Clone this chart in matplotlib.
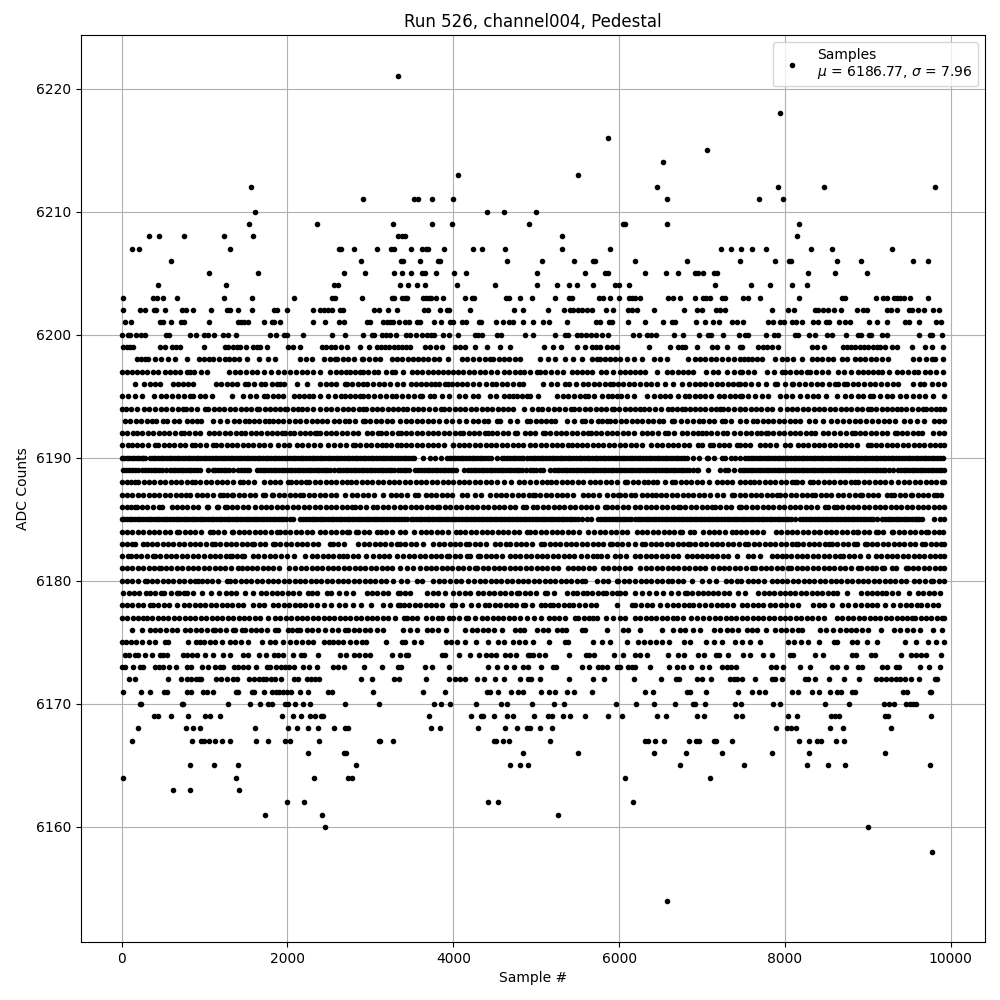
import matplotlib
matplotlib.use('Agg')
import matplotlib.pyplot as plt

# sample numbers, one list for each ADC level
s6221 = [3337]
s6218 = [7944]
s6216 = [5869]
s6215 = [7063]
s6214 = [6533]
s6213 = [4060, 5507]
s6212 = [1564, 6460, 7919, 8475, 9813]
s6211 = [2915, 3526, 3578, 3747, 4000, 6581, 7690, 7980]
s6210 = [1612, 4410, 4615, 5001]
s6209 = [1540, 2360, 3276, 3747, 3988, 4908, 6050, 6070, 6581, 8172]
s6208 = [334, 454, 756, 1238, 1588, 3337, 3377, 3421, 5315, 8148]
s6207 = [129, 213, 1311, 2625, 2649, 2806, 3083, 3252, 3284, 3493, 3626, 3674, 3698, 3891, 4241, 4350, 4627,
         5315, 5893, 7232, 7353, 7473, 7606, 7775, 8317, 8571, 9294]
s6206 = [599, 2890, 3373, 3397, 3602, 3811, 3843, 4651, 5073, 5459, 5688, 5712, 6195, 6822, 7461, 7883, 8052,
         8076, 8631, 8920, 9548, 9728]
s6205 = [1057, 1648, 2685, 2939, 3288, 3385, 3493, 3626, 3662, 3795, 4012, 4157, 5013, 5592, 5833, 5869, 6316,
         6569, 6714, 6918, 6955, 7015, 7147, 7184, 8281, 8607, 8993]
s6204 = [442, 1262, 2565, 2613, 3361, 3457, 3566, 3662, 4048, 4506, 5013, 5254, 5399, 5495, 5688, 5954, 6002,
         6122, 7160, 7594, 7823, 8088, 8269]
s6203 = [20, 382, 430, 503, 671, 1238, 1576, 2082, 2541, 2577, 2902, 3264, 3288, 3385, 3421, 3445, 3638, 3674,
         3710, 3735, 3795, 3879, 4145, 4229, 4253, 4639, 4675, 4808, 4953, 5230, 5399, 5435, 5761, 5809, 5893,
         6002, 6122, 6158, 6195, 6255, 6593, 6653, 6738, 6918, 7015, 7051, 7099, 7244, 7280, 7498, 7558, 7702,
         8172, 8691, 8727, 9098, 9186, 9234, 9318, 9355, 9391, 9439, 9511, 9728]
s6202 = [20, 225, 285, 394, 418, 527, 732, 780, 864, 1081, 1274, 1311, 1407, 1576, 1841, 1877, 1998, 2311, 2396,
         2444, 2492, 2541, 2637, 2673, 3047, 3107, 3216, 3325, 3650, 3698, 3843, 3928, 3952, 4205, 4736, 4844,
         5146, 5339, 5411, 5447, 5507, 5556, 5616, 5676, 5845, 5930, 6110, 6158, 6219, 6424, 6786, 6943, 7003,
         7172, 7220, 7280, 7847, 8040, 8112, 8365, 8401, 8461, 8522, 8595, 8679, 8872, 8945, 8993, 9234, 9282,
         9355, 9499, 9535, 9608, 9680, 9789, 9861]
s6201 = [44, 117, 466, 503, 599, 720, 756, 1057, 1407, 1443, 1479, 1528, 1721, 1817, 1841, 1913, 2311, 2456, 2625,
         2685, 2963, 2999, 3156, 3204, 3240, 3276, 3349, 3421, 3469, 3566, 3602, 3771, 3855, 3964, 4000, 4108,
         4157, 4313, 4337, 4519, 4603, 4675, 4723, 4844, 4965, 5085, 5158, 5375, 5724, 5773, 5881, 5917, 6110,
         6316, 6533, 6641, 6677, 6931, 7039, 7136, 7208, 7365, 7425, 7498, 7798, 7859, 7944, 7992, 8088, 8136,
         8209, 8341, 8401, 8498, 8534, 8655, 8727, 8788, 9017, 9114, 9234, 9451, 9499, 9620, 9825, 9885]
s6200 = [8, 80, 104, 177, 237, 285, 539, 575, 828, 900, 997, 1045, 1118, 1226, 1286, 1383, 1793, 1865, 1962, 1998,
         2191, 2541, 2697, 2915, 3023, 3047, 3144, 3192, 3240, 3312, 3433, 3481, 3554, 3626, 3686, 3735, 3771,
         3879, 3952, 4060, 4265, 4301, 4350, 4531, 4579, 4868, 4965, 5230, 5351, 5387, 5495, 5543, 5604, 5664,
         5724, 5797, 5869, 6171, 6243, 6340, 6388, 6448, 6665, 6774, 6967, 7075, 7111, 7256, 7449, 7522, 7558,
         7775, 7871, 7919, 8124, 8160, 8293, 8365, 8510, 8571, 8739, 8884, 8920, 9017, 9041, 9174, 9234, 9620,
         9752, 9776, 9897]
s6199 = [21, 60, 100, 141, 463, 523, 604, 650, 704, 998, 1247, 1287, 1347, 1390, 1428, 1500, 1589, 1630, 1669, 1757,
         2011, 2071, 2151, 2413, 2465, 2520, 2574, 2642, 2715, 2875, 2988, 3076, 3125, 3180, 3230, 3280, 3330, 3380,
         3430, 3478, 3659, 3720, 3788, 3860, 4021, 4081, 4142, 4262, 4403, 4564, 4684, 5094, 5206, 5295, 5488, 5588,
         5669, 5720, 5769, 5858, 5915, 5978, 6364, 6613, 6714, 6755, 6794, 6943, 7116, 7176, 7297, 7458, 7477, 7678,
         7730, 7779, 7839, 7919, 8321, 8382, 8474, 8703, 8750, 8800, 8850, 8900, 8950, 9000, 9065, 9105, 9150, 9200,
         9286, 9354, 9535, 9688, 9768, 9909]
s6198 = [182, 235, 282, 322, 403, 475, 564, 644, 785, 937, 990, 1050, 1106, 1179, 1247, 1300, 1360, 1420, 1508, 1661,
         1770, 1850, 2151, 2220, 2292, 2441, 2510, 2574, 2594, 2665, 2735, 2807, 2895, 2916, 2985, 3056, 3117, 3257,
         3320, 3385, 3450, 3510, 3575, 3640, 3700, 3765, 3830, 3941, 4101, 4170, 4240, 4310, 4380, 4443, 4483, 4545,
         4610, 4675, 4740, 4805, 5046, 5146, 5226, 5347, 5448, 5548, 5669, 5729, 5769, 5830, 5890, 5950, 6010, 6091,
         6179, 6272, 6420, 6495, 6573, 6835, 6915, 6975, 7040, 7105, 7170, 7237, 7317, 7385, 7458, 7510, 7557, 7598,
         7660, 7718, 7879, 7960, 8030, 8100, 8209, 8321, 8385, 8450, 8515, 8580, 8683, 8743, 8844, 8904, 8970, 9035,
         9100, 9170, 9246, 9547, 9620, 9695, 9768, 9809, 9909]
s6197 = [0, 61, 121, 185, 250, 310, 375, 443, 523, 585, 645, 704, 785, 830, 873, 954, 1034, 1299, 1365, 1430, 1500,
         1569, 1637, 1715, 1798, 1890, 1960, 2030, 2100, 2172, 2232, 2310, 2393, 2514, 2580, 2640, 2700, 2760, 2820,
         2875, 2916, 2975, 3040, 3097, 3185, 3257, 3298, 3398, 3498, 3560, 3625, 3690, 3750, 3815, 3880, 3941, 3993,
         4055, 4120, 4190, 4255, 4320, 4385, 4451, 4524, 4612, 4675, 4740, 4800, 4853, 4925, 5005, 5046, 5110, 5175,
         5255, 5327, 5428, 5490, 5550, 5610, 5669, 5781, 5842, 5925, 6010, 6071, 6130, 6190, 6250, 6312, 6453, 6573,
         6640, 6705, 6770, 6835, 6895, 7047, 7136, 7196, 7297, 7380, 7458, 7477, 7557, 7626, 7779, 7870, 7960, 8000,
         8065, 8130, 8195, 8261, 8301, 8375, 8450, 8522, 8643, 8711, 8795, 8884, 8936, 9000, 9060, 9120, 9166, 9258,
         9347, 9415, 9479, 9555, 9608, 9688, 9749, 9825, 9901]
s6196 = [162, 274, 340, 400, 463, 616, 680, 745, 805, 857, 1138, 1200, 1265, 1330, 1395, 1488, 1528, 1600, 1677, 1729,
         1818, 1870, 1915, 1958, 2111, 2240, 2393, 2460, 2525, 2590, 2695, 2715, 2780, 2845, 2905, 2964, 3036, 3105,
         3170, 3240, 3318, 3390, 3486, 3550, 3610, 3670, 3730, 3780, 3832, 3901, 3933, 3990, 4049, 4101, 4170, 4240,
         4310, 4390, 4463, 4512, 4584, 4650, 4720, 4797, 4837, 5086, 5174, 5255, 5347, 5399, 5480, 5560, 5628, 5695,
         5760, 5825, 5890, 5922, 5990, 6050, 6115, 6180, 6250, 6320, 6385, 6453, 6553, 6654, 6754, 6847, 6915, 6975,
         7040, 7110, 7175, 7240, 7310, 7375, 7438, 7457, 7520, 7586, 7678, 7771, 7879, 7907, 7995, 8080, 8100, 8170,
         8240, 8310, 8380, 8450, 8530, 8603, 8643, 8711, 8751, 8815, 8880, 8950, 9020, 9090, 9160, 9230, 9300, 9366,
         9547, 9628, 9676, 9769, 9849, 9915]
s6195 = [0, 81, 162, 250, 391, 471, 540, 610, 680, 750, 825, 865, 945, 1006, 1086, 1327, 1460, 1548, 1621, 1717, 1757,
         1825, 1890, 1950, 2083, 2140, 2200, 2255, 2312, 2393, 2494, 2574, 2642, 2695, 2760, 2820, 2875, 2908, 2975,
         3045, 3115, 3185, 3257, 3310, 3380, 3450, 3525, 3599, 3619, 3720, 3768, 3860, 3953, 4073, 4142, 4234, 4302,
         4443, 4515, 4612, 4670, 4725, 4773, 4825, 4893, 4925, 5025, 5255, 5327, 5387, 5455, 5525, 5588, 5628, 5700,
         5790, 5870, 5910, 5970, 6018, 6100, 6179, 6332, 6420, 6493, 6555, 6613, 6714, 6794, 6847, 6915, 6980, 7040,
         7104, 7208, 7270, 7335, 7395, 7458, 7477, 7557, 7638, 7720, 7799, 7939, 8010, 8080, 8181, 8261, 8341, 8402,
         8494, 8631, 8723, 8800, 8884, 8944, 9025, 9065, 9145, 9226, 9286, 9387, 9460, 9540, 9615, 9688, 9789, 9915]
s6194 = [0, 53, 109, 182, 270, 335, 400, 470, 540, 610, 680, 744, 777, 840, 905, 1006, 1046, 1110, 1175, 1240, 1305,
         1370, 1435, 1500, 1565, 1629, 1661, 1725, 1790, 1850, 1910, 1971, 1999, 2065, 2131, 2172, 2240, 2310, 2393,
         2460, 2530, 2600, 2665, 2730, 2795, 2860, 2916, 2948, 3015, 3080, 3145, 3210, 3270, 3335, 3398, 3446, 3510,
         3575, 3640, 3710, 3780, 3848, 3888, 3950, 4015, 4080, 4145, 4210, 4275, 4340, 4405, 4470, 4535, 4600, 4664,
         4725, 4853, 4945, 5025, 5074, 5140, 5210, 5280, 5350, 5419, 5456, 5520, 5585, 5650, 5715, 5780, 5845, 5910,
         5938, 6000, 6065, 6130, 6190, 6252, 6300, 6364, 6430, 6500, 6593, 6641, 6700, 6754, 6794, 6855, 6915, 6975,
         7040, 7105, 7165, 7216, 7249, 7315, 7380, 7458, 7457, 7520, 7585, 7650, 7715, 7780, 7845, 7939, 8020, 8085,
         8150, 8215, 8280, 8345, 8410, 8475, 8540, 8605, 8670, 8735, 8800, 8865, 8930, 9005, 9037, 9100, 9165, 9230,
         9295, 9346, 9395, 9460, 9530, 9600, 9660, 9696, 9760, 9820, 9869, 9915]
s6193 = [41, 105, 170, 235, 300, 362, 411, 495, 552, 632, 696, 793, 850, 905, 954, 1098, 1187, 1275, 1355, 1416, 1488,
         1536, 1600, 1660, 1725, 1782, 1830, 1885, 1942, 2019, 2085, 2150, 2220, 2292, 2352, 2413, 2481, 2562, 2625,
         2690, 2747, 2815, 2908, 2936, 3000, 3065, 3130, 3195, 3260, 3358, 3430, 3495, 3560, 3625, 3690, 3760, 3832,
         3913, 3990, 4070, 4154, 4234, 4300, 4371, 4423, 4524, 4564, 4684, 4765, 4885, 4925, 4997, 5060, 5120, 5175,
         5226, 5375, 5460, 5548, 5588, 5665, 5741, 5797, 5858, 5890, 5955, 6020, 6085, 6150, 6215, 6280, 6345, 6410,
         6485, 6533, 6634, 6662, 6740, 6822, 6895, 6967, 7015, 7080, 7145, 7237, 7277, 7345, 7458, 7530, 7610, 7658,
         7730, 7795, 7860, 7925, 7990, 8055, 8120, 8185, 8293, 8362, 8455, 8550, 8631, 8700, 8770, 8840, 8910, 8980,
         9050, 9120, 9190, 9260, 9330, 9435, 9507, 9590, 9676, 9797, 9860, 9915]
s6192 = [0, 65, 133, 182, 250, 315, 380, 445, 510, 575, 640, 712, 752, 815, 880, 945, 1054, 1114, 1180, 1245, 1310,
         1375, 1440, 1488, 1556, 1620, 1685, 1750, 1810, 1870, 1930, 1971, 2025, 2079, 2151, 2215, 2275, 2332, 2352,
         2393, 2460, 2525, 2590, 2655, 2720, 2785, 2850, 2956, 3016, 3097, 3125, 3190, 3260, 3338, 3366, 3430, 3495,
         3560, 3625, 3690, 3760, 3820, 3885, 3950, 4015, 4081, 4121, 4185, 4250, 4315, 4380, 4423, 4463, 4530, 4595,
         4660, 4745, 4773, 4865, 4925, 4990, 5086, 5106, 5170, 5235, 5300, 5365, 5430, 5495, 5560, 5628, 5657, 5720,
         5785, 5850, 5915, 5980, 6045, 6110, 6175, 6272, 6332, 6400, 6470, 6553, 6593, 6662, 6754, 6820, 6885, 6950,
         6995, 7044, 7110, 7180, 7257, 7297, 7385, 7457, 7529, 7595, 7660, 7715, 7771, 7799, 7860, 7925, 7990, 8055,
         8120, 8185, 8250, 8315, 8362, 8454, 8520, 8590, 8660, 8730, 8804, 8844, 8905, 8970, 9035, 9100, 9165, 9230,
         9326, 9347, 9410, 9475, 9540, 9600, 9648, 9789, 9855, 9915]
s6191 = [0, 81, 121, 185, 250, 315, 403, 443, 505, 570, 635, 700, 770, 845, 885, 950, 1020, 1106, 1138, 1200, 1265,
         1330, 1395, 1460, 1525, 1590, 1655, 1720, 1790, 1890, 1955, 2020, 2111, 2172, 2252, 2320, 2393, 2494, 2562,
         2634, 2710, 2787, 2815, 2880, 2945, 3010, 3075, 3140, 3185, 3245, 3326, 3366, 3430, 3495, 3560, 3625, 3690,
         3755, 3820, 3885, 3993, 4001, 4065, 4130, 4195, 4260, 4325, 4390, 4455, 4520, 4585, 4650, 4715, 4780, 4845,
         4925, 4990, 5055, 5120, 5185, 5250, 5315, 5380, 5428, 5488, 5550, 5615, 5680, 5745, 5810, 5875, 5938, 6010,
         6075, 6140, 6205, 6270, 6380, 6453, 6520, 6585, 6650, 6715, 6780, 6845, 6955, 7003, 7096, 7136, 7200, 7265,
         7330, 7417, 7457, 7520, 7578, 7698, 7760, 7825, 7890, 8000, 8060, 8161, 8213, 8281, 8345, 8410, 8475, 8540,
         8605, 8670, 8735, 8800, 8865, 8997, 9033, 9095, 9160, 9225, 9290, 9355, 9420, 9485, 9550, 9615, 9680, 9745,
         9810, 9875, 9915]
s6190 = [0, 60, 120, 180, 240, 283, 343, 405, 470, 535, 600, 665, 730, 795, 860, 925, 990, 1055, 1120, 1185, 1250, 1315,
         1380, 1445, 1510, 1575, 1640, 1705, 1770, 1835, 1900, 1965, 2030, 2095, 2160, 2225, 2290, 2355, 2420, 2485,
         2550, 2615, 2680, 2745, 2810, 2875, 2940, 3005, 3070, 3135, 3200, 3265, 3330, 3400, 3465, 3530, 3639, 3720,
         3780, 3850, 3929, 3961, 4025, 4090, 4155, 4220, 4285, 4350, 4415, 4524, 4584, 4650, 4715, 4780, 4845, 4925,
         4990, 5055, 5120, 5185, 5250, 5315, 5380, 5445, 5510, 5575, 5640, 5705, 5770, 5835, 5900, 5965, 6030, 6095,
         6160, 6225, 6290, 6355, 6420, 6485, 6550, 6615, 6680, 6745, 6814, 6895, 6965, 7056, 7075, 7145, 7237, 7277,
         7345, 7400, 7458, 7520, 7585, 7650, 7715, 7780, 7845, 7910, 7975, 8040, 8105, 8170, 8235, 8300, 8365, 8430,
         8495, 8560, 8625, 8690, 8755, 8820, 8885, 8950, 9015, 9080, 9145, 9210, 9275, 9340, 9407, 9447, 9510, 9575,
         9640, 9705, 9770, 9835, 9900,
         30, 90, 150, 210, 262, 375, 437, 502, 567, 632, 697, 762, 827, 892, 957, 1022, 1087, 1152, 1217, 1282, 1347,
         1412, 1477, 1542, 1607, 1672, 1737, 1802, 1867, 1932, 1997, 2062, 2127, 2192, 2257, 2322, 2387, 2452, 2517,
         2582, 2647, 2712, 2777, 2842, 2907, 2972, 3037, 3102, 3167, 3232, 3297, 3365, 3432, 3497, 3992, 4057, 4122,
         4187, 4252, 4317, 4382, 4450, 4617, 4682, 4747, 4812, 4885, 4957, 5022, 5087, 5152, 5217, 5282, 5347, 5412,
         5477, 5542, 5607, 5672, 5737, 5802, 5867, 5932, 5997, 6062, 6127, 6192, 6257, 6322, 6387, 6452, 6517, 6582,
         6647, 6712, 6780, 7552, 7617, 7682, 7747, 7812, 7877, 7942, 8007, 8072, 8137, 8202, 8267, 8332, 8397, 8462,
         8527, 8592, 8657, 8722, 8787, 8852, 8917, 8982, 9047, 9112, 9177, 9242, 9307, 9372, 9478, 9542, 9607, 9672,
         9737, 9802, 9867]
s6189 = [21, 90, 160, 243, 283, 350, 420, 490, 584, 616, 680, 745, 810, 875, 940, 1047, 1099, 1165, 1230, 1295, 1348,
         1408, 1475, 1540, 1629, 1670, 1735, 1800, 1865, 1930, 1995, 2060, 2125, 2190, 2255, 2320, 2385, 2450, 2515,
         2614, 2634, 2700, 2765, 2830, 2895, 2960, 3025, 3090, 3155, 3220, 3285, 3338, 3400, 3470, 3539, 3579, 3645,
         3710, 3775, 3840, 3905, 3970, 4035, 4130, 4182, 4245, 4310, 4375, 4440, 4505, 4570, 4635, 4700, 4765, 4830,
         4925, 5000, 5080, 5166, 5214, 5280, 5345, 5410, 5475, 5540, 5605, 5670, 5735, 5800, 5865, 5930, 5995, 6060,
         6125, 6190, 6255, 6320, 6385, 6450, 6515, 6580, 6645, 6710, 6775, 6840, 6935, 6955, 7075, 7217, 7277, 7317,
         7385, 7458, 7520, 7585, 7650, 7715, 7780, 7845, 7910, 7975, 8040, 8105, 8170, 8235, 8300, 8365, 8430, 8495,
         8560, 8625, 8690, 8755, 8820, 8885, 8950, 9015, 9080, 9145, 9210, 9306, 9366, 9430, 9495, 9560, 9625, 9690,
         9755, 9820, 9885, 9915,
         55, 125, 200, 317, 385, 455, 535, 648, 712, 777, 842, 907, 1132, 1197, 1262, 1442, 1507, 1702, 1767, 1832,
         1897, 1962, 2027, 2092, 2157, 2222, 2287, 2352, 2417, 2482, 2560, 2667, 2732, 2797, 2862, 2927, 2992, 3057,
         3122, 3187, 3252, 3367, 3435, 3612, 3677, 3742, 3807, 3872, 3937, 4002, 4212, 4277, 4342, 4407, 4472, 4537,
         4602, 4667, 4732, 4797, 4875, 4960, 5040, 5247, 5312, 5377, 5442, 5507, 5572, 5637, 5702, 5767, 5832, 5897,
         5962, 6027, 6092, 6157, 6222, 6287, 6352, 6417, 6482, 6547, 6612, 6677, 6742, 6807, 6890, 7488, 7552, 7617,
         7682, 7747, 7812, 7877, 7942, 8007, 8072, 8137, 8202, 8267, 8332, 8397, 8462, 8527, 8592, 8657, 8722, 8787,
         8852, 8917, 8982, 9047, 9112, 9177, 9260, 9397, 9462, 9527, 9592, 9657, 9722, 9787, 9852]
s6188 = [0, 60, 110, 162, 202, 265, 330, 395, 460, 525, 590, 655, 720, 785, 846, 886, 950, 1015, 1080, 1145, 1210, 1275,
         1340, 1428, 1468, 1530, 1597, 1718, 1785, 1850, 1915, 2011, 2039, 2100, 2165, 2224, 2264, 2330, 2393, 2460,
         2525, 2590, 2655, 2715, 2763, 2830, 2895, 2960, 3025, 3090, 3155, 3220, 3285, 3350, 3415, 3480, 3545, 3610,
         3675, 3740, 3805, 3880, 3933, 4000, 4065, 4130, 4195, 4260, 4325, 4390, 4455, 4524, 4612, 4700, 4797, 4853,
         4925, 5000, 5065, 5126, 5174, 5240, 5305, 5370, 5435, 5500, 5565, 5649, 5709, 5775, 5840, 5905, 5970, 6071,
         6099, 6165, 6230, 6295, 6350, 6412, 6460, 6550, 6634, 6674, 6740, 6805, 6870, 6935, 6995, 7084, 7176, 7237,
         7300, 7365, 7458, 7520, 7578, 7626, 7690, 7755, 7820, 7885, 7950, 8015, 8080, 8120, 8140, 8205, 8301, 8333,
         8400, 8465, 8530, 8595, 8660, 8725, 8790, 8844, 8884, 8950, 9015, 9080, 9145, 9210, 9275, 9366, 9435, 9500,
         9565, 9630, 9695, 9760, 9825, 9890, 9915]
s6187 = [0, 65, 130, 195, 260, 325, 390, 455, 520, 585, 650, 715, 780, 825, 906, 970, 1035, 1100, 1187, 1219, 1270, 1328,
         1348, 1415, 1480, 1545, 1610, 1710, 1730, 1810, 1830, 1895, 1960, 2025, 2090, 2152, 2192, 2260, 2325, 2390,
         2455, 2520, 2585, 2695, 2775, 2840, 2905, 2970, 3040, 3157, 3245, 3310, 3375, 3440, 3539, 3579, 3671, 3732,
         3795, 3860, 3925, 3990, 4101, 4162, 4262, 4335, 4443, 4510, 4575, 4636, 4713, 4780, 4845, 4910, 4966, 4986,
         5050, 5115, 5180, 5245, 5310, 5375, 5448, 5569, 5621, 5690, 5762, 5858, 5925, 5983, 6011, 6075, 6140, 6192,
         6272, 6335, 6393, 6441, 6505, 6570, 6635, 6700, 6765, 6830, 6895, 6960, 7025, 7090, 7177, 7257, 7358, 7390,
         7455, 7520, 7585, 7650, 7715, 7780, 7845, 7900, 7941, 8005, 8070, 8135, 8200, 8265, 8323, 8363, 8430, 8495,
         8560, 8636, 8705, 8770, 8840, 8906, 8934, 8998, 9060, 9125, 9227, 9275, 9320, 9385, 9450, 9521, 9537, 9600,
         9665, 9730, 9795, 9830, 9878]
s6186 = [0, 60, 110, 162, 182, 245, 310, 375, 456, 484, 604, 665, 725, 793, 860, 925, 1026, 1047, 1147, 1167, 1248, 1268,
         1330, 1395, 1460, 1529, 1609, 1675, 1740, 1805, 1870, 1935, 2000, 2065, 2130, 2195, 2260, 2333, 2393, 2460,
         2525, 2590, 2655, 2720, 2775, 2815, 2880, 2945, 3037, 3085, 3150, 3215, 3280, 3358, 3420, 3485, 3550, 3615,
         3680, 3745, 3800, 3832, 3900, 3965, 4030, 4095, 4160, 4225, 4290, 4355, 4420, 4485, 4550, 4615, 4680, 4745,
         4845, 4873, 4966, 5014, 5080, 5145, 5210, 5275, 5340, 5405, 5470, 5535, 5600, 5665, 5730, 5830, 5850, 5915,
         5980, 6045, 6110, 6192, 6255, 6320, 6385, 6450, 6515, 6580, 6645, 6715, 6735, 6800, 6865, 6930, 6995, 7060,
         7125, 7157, 7220, 7285, 7350, 7446, 7470, 7535, 7600, 7665, 7730, 7795, 7860, 7925, 7990, 8055, 8120, 8185,
         8250, 8315, 8380, 8483, 8516, 8596, 8624, 8690, 8755, 8820, 8885, 8950, 9015, 9080, 9145, 9210, 9275, 9340,
         9405, 9470, 9535, 9600, 9665, 9730, 9795, 9860, 9915]
s6185 = [0, 65, 130, 195, 260, 325, 390, 455, 520, 585, 650, 715, 780, 845, 910, 975, 1040, 1105, 1170, 1235, 1300, 1365,
         1430, 1495, 1560, 1625, 1690, 1755, 1820, 1885, 1950, 2031, 2072, 2152, 2192, 2260, 2325, 2390, 2455, 2520,
         2585, 2650, 2715, 2780, 2845, 2910, 2975, 3040, 3105, 3170, 3235, 3300, 3365, 3446, 3486, 3550, 3615, 3680,
         3745, 3810, 3875, 3940, 4005, 4070, 4135, 4200, 4265, 4330, 4395, 4460, 4525, 4590, 4655, 4720, 4785, 4850,
         4915, 4980, 5045, 5110, 5175, 5240, 5305, 5370, 5435, 5500, 5609, 5657, 5750, 5815, 5880, 5945, 6010, 6075,
         6140, 6192, 6255, 6320, 6385, 6450, 6515, 6580, 6645, 6710, 6775, 6840, 6905, 6970, 7035, 7100, 7165, 7230,
         7295, 7360, 7425, 7490, 7555, 7620, 7685, 7750, 7815, 7880, 7945, 8010, 8075, 8182, 8222, 8285, 8350, 8415,
         8480, 8545, 8610, 8675, 8740, 8805, 8870, 8935, 9000, 9065, 9167, 9207, 9270, 9335, 9400, 9465, 9530, 9595,
         9649, 9802, 9870, 9915,
         32, 97, 162, 227, 292, 357, 422, 487, 552, 617, 682, 747, 812, 877, 942, 1007, 1072, 1137, 1202, 1267, 1332,
         1397, 1462, 1527, 1592, 1657, 1722, 1787, 1852, 1917, 1985, 2225, 2292, 2357, 2422, 2487, 2552, 2617, 2682,
         2747, 2812, 2877, 2942, 3007, 3072, 3137, 3202, 3267, 3332, 3400, 3517, 3582, 3647, 3712, 3777, 3842, 3907,
         3972, 4037, 4102, 4167, 4232, 4297, 4362, 4427, 4492, 4557, 4622, 4687, 4752, 4817, 4882, 4947, 5012, 5077,
         5142, 5207, 5272, 5337, 5402, 5467, 5550, 5782, 5847, 5912, 5977, 6042, 6107, 6222, 6287, 6352, 6417, 6482,
         6547, 6612, 6677, 6742, 6807, 6872, 6937, 7002, 7067, 7132, 7197, 7262, 7327, 7392, 7457, 7522, 7587, 7652,
         7717, 7782, 7847, 7912, 7977, 8042, 8120, 8252, 8317, 8382, 8447, 8512, 8577, 8642, 8707, 8772, 8837, 8902,
         8967, 9032, 9110, 9237, 9302, 9367, 9432, 9497, 9562, 9622]
s6184 = [0, 65, 130, 195, 260, 325, 390, 455, 520, 585, 665, 697, 760, 825, 890, 955, 1067, 1099, 1165, 1230, 1328, 1348,
         1410, 1475, 1540, 1605, 1670, 1735, 1800, 1871, 1911, 1971, 2035, 2100, 2165, 2230, 2295, 2393, 2458, 2525,
         2590, 2655, 2715, 2747, 2827, 2855, 2920, 2985, 3077, 3125, 3190, 3255, 3358, 3420, 3527, 3607, 3670, 3735,
         3800, 3865, 3930, 4033, 4081, 4145, 4210, 4275, 4340, 4405, 4470, 4535, 4600, 4665, 4730, 4795, 4885, 4925,
         4990, 5055, 5120, 5185, 5250, 5315, 5380, 5445, 5510, 5621, 5697, 5770, 5835, 5900, 5965, 6030, 6095, 6212,
         6275, 6340, 6405, 6470, 6535, 6600, 6665, 6735, 6755, 6855, 6907, 7016, 7080, 7145, 7210, 7275, 7358, 7410,
         7470, 7535, 7600, 7659, 7732, 7892, 7955, 8020, 8085, 8150, 8215, 8280, 8345, 8411, 8423, 8490, 8555, 8620,
         8685, 8750, 8815, 8865, 8885, 8950, 9015, 9094, 9119, 9185, 9288, 9308, 9375, 9440, 9505, 9570, 9635, 9697,
         9730, 9800, 9860, 9911]
s6183 = [0, 60, 122, 162, 263, 303, 365, 430, 495, 560, 625, 690, 755, 820, 885, 950, 1015, 1087, 1127, 1190, 1255, 1320,
         1385, 1450, 1515, 1569, 1601, 1665, 1730, 1822, 1850, 1915, 1980, 2045, 2110, 2175, 2240, 2305, 2370, 2514,
         2546, 2610, 2683, 2855, 2920, 2985, 3050, 3115, 3180, 3245, 3318, 3358, 3420, 3485, 3550, 3639, 3760, 3825,
         3890, 3955, 4020, 4085, 4154, 4194, 4260, 4325, 4390, 4504, 4564, 4636, 4684, 4750, 4815, 4880, 4945, 5054,
         5094, 5160, 5225, 5290, 5355, 5420, 5485, 5550, 5615, 5680, 5745, 5810, 5890, 5910, 5975, 6040, 6105, 6192,
         6272, 6313, 6380, 6445, 6510, 6575, 6640, 6705, 6770, 6835, 6855, 6920, 6985, 7050, 7115, 7180, 7245, 7310,
         7375, 7440, 7519, 7559, 7625, 7690, 7755, 7820, 7885, 7950, 8015, 8080, 8130, 8154, 8220, 8285, 8350, 8415,
         8480, 8532, 8564, 8630, 8695, 8760, 8837, 8865, 8966, 8986, 9050, 9115, 9180, 9245, 9310, 9375, 9440, 9505,
         9570, 9649, 9689, 9755, 9820, 9885, 9915]
s6182 = [0, 82, 110, 170, 235, 300, 375, 403, 465, 530, 595, 660, 725, 790, 866, 926, 994, 1060, 1125, 1190, 1255, 1308,
         1328, 1395, 1448, 1477, 1589, 1650, 1722, 1790, 1855, 1920, 1991, 2080, 2213, 2297, 2360, 2425, 2490, 2555,
         2620, 2675, 2723, 2790, 2855, 2948, 3036, 3100, 3165, 3230, 3318, 3398, 3465, 3530, 3595, 3660, 3725, 3790,
         3855, 3921, 3953, 4020, 4085, 4162, 4202, 4302, 4322, 4390, 4455, 4520, 4585, 4684, 4745, 4810, 4875, 4940,
         5005, 5070, 5135, 5200, 5265, 5330, 5395, 5460, 5541, 5617, 5680, 5738, 5782, 5858, 5950, 6015, 6080, 6192,
         6255, 6320, 6385, 6450, 6514, 6580, 6645, 6710, 6815, 6875, 6935, 6996, 7056, 7120, 7185, 7250, 7315, 7418,
         7551, 7620, 7699, 7840, 7900, 7961, 8009, 8075, 8140, 8205, 8270, 8335, 8400, 8465, 8530, 8600, 8664, 8705,
         8770, 8835, 8900, 9006, 9094, 9160, 9225, 9290, 9355, 9420, 9485, 9550, 9615, 9680, 9745, 9810, 9875, 9915]
s6181 = [0, 65, 130, 195, 260, 325, 390, 456, 472, 535, 600, 665, 730, 795, 860, 925, 990, 1055, 1120, 1185, 1250, 1315,
         1408, 1448, 1509, 1569, 1635, 1700, 1765, 1830, 1895, 2024, 2092, 2160, 2225, 2290, 2355, 2420, 2485, 2550,
         2615, 2680, 2745, 2810, 2875, 2940, 3005, 3070, 3135, 3200, 3265, 3358, 3446, 3511, 3599, 3665, 3730, 3795,
         3860, 3925, 3990, 4055, 4120, 4185, 4262, 4290, 4355, 4420, 4485, 4550, 4615, 4680, 4745, 4810, 4875, 4940,
         5005, 5070, 5135, 5200, 5265, 5388, 5440, 5505, 5570, 5635, 5700, 5802, 5870, 5935, 6000, 6065, 6130, 6252,
         6325, 6390, 6455, 6520, 6585, 6650, 6715, 6780, 6845, 6910, 6975, 7036, 7137, 7200, 7265, 7330, 7395, 7460,
         7525, 7599, 7639, 7705, 7770, 7835, 7900, 7965, 8033, 8073, 8140, 8205, 8270, 8335, 8400, 8465, 8530, 8595,
         8660, 8725, 8790, 8885, 8917, 8985, 9054, 9094, 9167, 9199, 9296, 9336, 9456, 9480, 9545, 9610, 9675, 9740,
         9805, 9870, 9915]
s6180 = [0, 65, 130, 195, 283, 303, 365, 430, 495, 560, 625, 690, 755, 820, 885, 926, 966, 1030, 1095, 1160, 1268, 1308,
         1370, 1435, 1500, 1565, 1630, 1695, 1760, 1825, 1890, 1955, 2020, 2085, 2150, 2215, 2280, 2345, 2410, 2475,
         2540, 2605, 2670, 2735, 2800, 2865, 2930, 2995, 3060, 3125, 3190, 3278, 3370, 3440, 3559, 3619, 3760, 3825,
         3890, 3955, 4033, 4094, 4182, 4254, 4320, 4385, 4450, 4515, 4580, 4645, 4710, 4775, 4840, 4905, 4970, 5035,
         5100, 5165, 5230, 5295, 5360, 5425, 5490, 5549, 5589, 5738, 5805, 5870, 5971, 5991, 6055, 6120, 6192, 6260,
         6325, 6390, 6455, 6520, 6594, 6642, 6710, 6775, 6883, 7004, 7085, 7165, 7285, 7350, 7418, 7470, 7551, 7615,
         7680, 7745, 7848, 7900, 7965, 8030, 8095, 8160, 8225, 8290, 8355, 8420, 8485, 8550, 8615, 8680, 8745, 8810,
         8875, 8940, 9005, 9070, 9135, 9200, 9265, 9330, 9395, 9460, 9561, 9617, 9690, 9762, 9790, 9860, 9915]
s6179 = [21, 85, 150, 215, 295, 343, 405, 472, 512, 590, 665, 697, 753, 793, 860, 966, 1075, 1179, 1256, 1320, 1385, 1489,
         1589, 1678, 1745, 1810, 1875, 1940, 2005, 2070, 2135, 2253, 2297, 2360, 2474, 2522, 2626, 2700, 2787, 2956,
         3020, 3085, 3150, 3215, 3338, 3358, 3420, 3478, 3687, 3760, 3820, 3901, 4001, 4073, 4140, 4205, 4302, 4363,
         4430, 4495, 4560, 4625, 4690, 4765, 4797, 4865, 4930, 4995, 5107, 5135, 5219, 5376, 5440, 5488, 5569, 5609,
         5675, 5740, 5810, 5842, 5910, 5975, 6011, 6072, 6192, 6272, 6365, 6441, 6534, 6626, 6710, 6795, 6815, 6880,
         6945, 7010, 7075, 7137, 7197, 7265, 7330, 7438, 7519, 7679, 7745, 7810, 7872, 7940, 8000, 8061, 8122, 8190,
         8255, 8320, 8385, 8450, 8515, 8580, 8624, 8749, 8918, 8985, 9050, 9115, 9175, 9215, 9290, 9368, 9500, 9601,
         9670, 9735, 9802, 9870]
s6178 = [0, 65, 130, 195, 260, 343, 375, 440, 505, 570, 673, 753, 815, 880, 945, 1010, 1075, 1140, 1205, 1270, 1335,
         1408, 1461, 1589, 1655, 1720, 1822, 1891, 1955, 2020, 2085, 2150, 2215, 2280, 2353, 2441, 2530, 2618, 2699,
         2795, 2892, 3004, 3150, 3240, 3338, 3358, 3406, 3470, 3535, 3600, 3665, 3730, 3795, 3860, 3981, 4021, 4101,
         4210, 4300, 4383, 4435, 4500, 4565, 4630, 4695, 4760, 4837, 4865, 4945, 5054, 5110, 5167, 5199, 5265, 5330,
         5395, 5448, 5520, 5590, 5655, 5722, 5971, 6152, 6192, 6260, 6333, 6401, 6494, 6582, 6650, 6715, 6780, 6843,
         6895, 6965, 7036, 7109, 7175, 7240, 7305, 7378, 7478, 7545, 7610, 7679, 7740, 7820, 7885, 7950, 8015, 8081,
         8154, 8343, 8410, 8475, 8564, 8684, 8765, 8845, 8918, 8985, 9050, 9115, 9207, 9308, 9388, 9455, 9520, 9589,
         9641, 9710, 9790, 9842]
s6177 = [8, 70, 135, 195, 255, 303, 370, 435, 500, 565, 630, 695, 760, 825, 890, 955, 1020, 1085, 1150, 1215, 1280, 1345,
         1410, 1475, 1540, 1605, 1670, 1770, 1851, 1915, 1980, 2045, 2110, 2175, 2240, 2305, 2370, 2435, 2500, 2565,
         2630, 2695, 2760, 2825, 2890, 2955, 3020, 3085, 3150, 3217, 3300, 3406, 3446, 3498, 3559, 3671, 3745, 3820,
         3860, 3953, 3993, 4070, 4154, 4182, 4260, 4343, 4411, 4475, 4540, 4605, 4670, 4735, 4800, 4893, 4978, 5060,
         5159, 5215, 5280, 5345, 5468, 5508, 5575, 5640, 5690, 5730, 5842, 5923, 6011, 6072, 6192, 6255, 6320, 6385,
         6450, 6515, 6580, 6654, 6695, 6775, 6867, 6940, 7016, 7084, 7157, 7220, 7285, 7350, 7415, 7480, 7545, 7610,
         7675, 7740, 7805, 7870, 7935, 8000, 8065, 8130, 8195, 8260, 8325, 8403, 8475, 8624, 8692, 8760, 8825, 8890,
         8955, 9020, 9085, 9150, 9215, 9280, 9345, 9410, 9475, 9529, 9569, 9635, 9700, 9765, 9830, 9895, 9915]
s6176 = [122, 250, 343, 403, 464, 530, 604, 673, 765, 830, 895, 960, 1025, 1107, 1127, 1190, 1255, 1348, 1368, 1449, 1489,
         1555, 1620, 1685, 1750, 1851, 1891, 2011, 2060, 2112, 2152, 2232, 2293, 2373, 2450, 2534, 2614, 2695, 2735,
         2800, 2865, 2930, 2995, 3077, 3157, 3398, 3478, 3567, 3679, 3745, 3810, 3913, 4142, 4222, 4290, 4355, 4420,
         4485, 4584, 4745, 4800, 4853, 5006, 5078, 5139, 5255, 5310, 5356, 5549, 5589, 5850, 6051, 6112, 6252, 6522,
         6654, 6735, 6795, 6885, 6976, 7149, 7220, 7298, 7358, 7438, 7539, 7599, 7659, 7768, 7880, 7950, 8015, 8085,
         8162, 8210, 8423, 8500, 8584, 8664, 8730, 8795, 8860, 8925, 9006, 9159, 9320, 9388, 9468, 9548, 9629, 9790, 9898]
s6175 = [8, 56, 117, 177, 249, 334, 406, 527, 563, 804, 900, 949, 997, 1069, 1130, 1214, 1311, 1371, 1443, 1528, 1696,
         1793, 1853, 1950, 2034, 2106, 2179, 2251, 2311, 2444, 2504, 2553, 2613, 2673, 2758, 2830, 2902, 2951, 3192,
         3385, 3421, 3530, 3614, 3915, 3976, 4048, 4145, 4277, 4422, 4543, 4615, 4723, 4796, 4868, 4965, 5158, 5351,
         5387, 5688, 5797, 5893, 6098, 6231, 6304, 6376, 6448, 6521, 6605, 6786, 6858, 7051, 7147, 7244, 7401, 7485,
         7582, 7702, 8040, 8112, 8197, 8281, 8414, 8595, 8631, 8812, 8872, 8993, 9114, 9451, 9584, 9728, 9825, 9915]
s6174 = [44, 92, 165, 201, 285, 370, 466, 503, 551, 744, 792, 852, 912, 1009, 1106, 1226, 1311, 1467, 1528, 1660, 1745,
         1841, 1889, 1950, 2070, 2167, 2203, 2372, 2637, 2709, 2806, 2866, 2939, 2999, 3264, 3361, 3433, 3457, 3867,
         3903, 4072, 4205, 4313, 4398, 4458, 4519, 4627, 4687, 4760, 4904, 4925, 4965, 5037, 5109, 5399, 5604, 5640,
         5700, 5942, 6050, 6195, 6255, 6340, 6593, 6714, 6786, 6955, 7027, 7172, 7208, 7316, 7498, 7582, 7738, 7847,
         8064, 8100, 8365, 8461, 8812, 8860, 9041, 9090, 9403, 9523, 9584, 9644, 9704, 9885]
s6173 = [0, 44, 141, 225, 261, 406, 454, 503, 575, 659, 792, 840, 973, 1045, 1130, 1190, 1226, 1359, 1407, 1467, 1528,
         1624, 1757, 1793, 1865, 1926, 1974, 2022, 2082, 2191, 2263, 2360, 2553, 2613, 2685, 2927, 3144, 3337, 3373,
         3662, 3747, 3952, 4422, 4531, 4639, 4736, 4844, 4904, 5061, 5206, 5242, 5556, 5640, 5748, 5797, 5857, 5978,
         6014, 6110, 6158, 6195, 6376, 6605, 6702, 6774, 6870, 7003, 7087, 7244, 7304, 7353, 7413, 7835, 7895, 7980,
         8184, 8305, 8570, 8631, 8739, 8884, 8933, 9174, 9234, 9343, 9379, 9632, 9740, 9873]
s6172 = [92, 165, 563, 720, 792, 840, 900, 937, 961, 1142, 1202, 1274, 1347, 1395, 1540, 1600, 1660, 1708, 1745, 1805,
         1853, 1926, 2082, 2131, 2239, 2287, 2336, 2384, 2890, 3023, 3288, 3349, 3674, 3952, 4024, 4084, 4145, 4289,
         4374, 4506, 4615, 4808, 4904, 4937, 5049, 5399, 5688, 5821, 6182, 6509, 6689, 6725, 6943, 7003, 7111, 7341,
         7389, 7425, 7485, 7642, 7847, 7883, 7968, 8245, 8281, 8365, 8534, 8716, 8896, 9102, 9162, 9222, 9282, 9343,
         9391, 9451, 9523, 9620, 9813, 9837]
s6171 = [20, 237, 346, 515, 551, 792, 840, 985, 1033, 1106, 1383, 1407, 1576, 1600, 1721, 1817, 1865, 1901, 1950, 1998,
         2046, 2155, 2251, 2492, 2541, 3035, 3638, 3903, 4410, 4446, 4543, 4699, 4784, 4844, 5061, 5158, 5230, 5375,
         5459, 5676, 6316, 6412, 6822, 6858, 7051, 7437, 7606, 7690, 7762, 8088, 8160, 8329, 8414, 8546, 8631, 8679,
         8812, 8848, 9427, 9475, 9753, 9765]
s6170 = [225, 237, 732, 744, 1286, 1552, 1672, 1769, 1817, 1974, 2010, 2094, 2191, 2275, 2697, 3107, 3771, 3855, 3964,
         4277, 4579, 4651, 4953, 5218, 5339, 5966, 6206, 6424, 6677, 6894, 6918, 7039, 7401, 7473, 7859, 7944, 8486,
         8776, 9198, 9258, 9318, 9463, 9511, 9548, 9584]
s6169 = [394, 442, 599, 804, 1009, 1069, 1190, 1938, 2070, 2167, 2275, 2336, 2408, 2432, 3711, 4217, 4337, 4362, 4494,
         4651, 4723, 4977, 5146, 5194, 5327, 5411, 5592, 5869, 6038, 6460, 6569, 6943, 7027, 7413, 7485, 8040, 8148,
         8558, 8607, 8655, 9210, 9246, 9765]
s6168 = [201, 780, 864, 949, 1612, 2010, 2119, 2251, 2372, 2565, 2697, 2734, 3735, 3843, 4301, 4627, 4772, 4892, 4925,
         5049, 5194, 7895, 8028, 8076, 8136, 8546, 8703, 9282]
s6167 = [129, 852, 961, 997, 1057, 1130, 1214, 1311, 1624, 1769, 1974, 2034, 2384, 3107, 3119, 3276, 4494, 4519, 4603,
         4675, 5170, 6316, 6352, 6436, 6545, 6846, 6931, 6967, 7147, 7172, 7365, 8172, 8293, 8390, 8438, 8619, 8716]
s6166 = [2251, 2685, 2709, 4844, 5507, 6424, 6810, 7244, 7847, 8293, 9210]
s6165 = [828, 1118, 1407, 2830, 4687, 4808, 4904, 6738, 7510, 8269, 8522, 8727, 9753]
s6164 = [20, 1383, 2324, 2734, 2782, 6074, 7099]
s6163 = [623, 828, 1419]
s6162 = [1998, 2203, 4422, 4543, 6171]
s6161 = [1733, 2420, 5266]
s6160 = [2456, 9005]
s6158 = [9777]
s6154 = [6581]

levels = [6221, 6218, 6216, 6215, 6214, 6213, 6212, 6211, 6210, 6209, 6208, 6207, 6206, 6205, 6204, 6203, 6202,
          6201, 6200, 6199, 6198, 6197, 6196, 6195, 6194, 6193, 6192, 6191, 6190, 6189, 6188, 6187, 6186, 6185,
          6184, 6183, 6182, 6181, 6180, 6179, 6178, 6177, 6176, 6175, 6174, 6173, 6172, 6171, 6170, 6169, 6168,
          6167, 6166, 6165, 6164, 6163, 6162, 6161, 6160, 6158, 6154]
samples = [s6221, s6218, s6216, s6215, s6214, s6213, s6212, s6211, s6210, s6209, s6208, s6207, s6206, s6205, s6204,
           s6203, s6202, s6201, s6200, s6199, s6198, s6197, s6196, s6195, s6194, s6193, s6192, s6191, s6190, s6189,
           s6188, s6187, s6186, s6185, s6184, s6183, s6182, s6181, s6180, s6179, s6178, s6177, s6176, s6175, s6174,
           s6173, s6172, s6171, s6170, s6169, s6168, s6167, s6166, s6165, s6164, s6163, s6162, s6161, s6160, s6158,
           s6154]

x = []
y = []
for level, row in zip(levels, samples):
    for s in row:
        x.append(s)
        y.append(level)

mu = 6186.77
sigma = 7.96

plt.figure(figsize=(10, 10))
plt.plot(x, y, 'k.', label='Samples\n$\\mu$ = %.2f, $\\sigma$ = %.2f' % (mu, sigma))
plt.xlim(-490, 10412)
plt.xlabel('Sample #')
plt.ylabel('ADC Counts')
plt.title('Run 526, channel004, Pedestal')
plt.legend(loc='upper right')
plt.grid(True)
plt.subplots_adjust(left=0.081, right=0.985, top=0.965, bottom=0.058)
plt.savefig('out.png', dpi=100)
